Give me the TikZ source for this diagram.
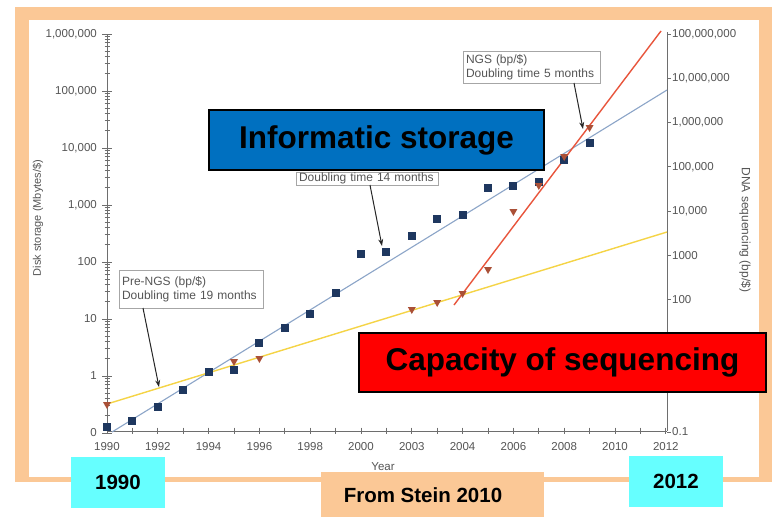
\documentclass[tikz,border=0pt]{standalone}
\usepackage{fontspec}
\setmainfont{Liberation Sans}
\usetikzlibrary{arrows.meta}
\definecolor{peach}{RGB}{251,200,150}
\definecolor{axisgray}{RGB}{110,110,110}
\definecolor{labelgray}{RGB}{85,85,85}
\definecolor{diskblue}{RGB}{140,165,200}
\definecolor{preyellow}{RGB}{245,212,70}
\definecolor{ngsred}{RGB}{232,85,60}
\definecolor{squarenavy}{RGB}{30,55,95}
\definecolor{trired}{RGB}{170,80,55}
\definecolor{infoblue}{RGB}{0,112,192}
\definecolor{tagcyan}{RGB}{102,255,255}
\tikzset{
  axisline/.style={draw=axisgray, line width=0.9pt},
  ticklabel/.style={text=labelgray, font=\fontsize{11.5}{13}\selectfont, inner sep=1pt},
  callout/.style={draw=gray!70, fill=white, text=labelgray, font=\fontsize{12}{14}\selectfont,
    align=left, inner xsep=3pt, inner ysep=2pt},
  pointer/.style={draw=black!85, line width=1pt, -{Stealth[length=7pt,width=5pt]}},
  bigbox/.style={draw=black, line width=1.3pt, font=\fontsize{31.5}{36}\selectfont\bfseries, text=black},
  tagbox/.style={font=\fontsize{20.5}{24}\selectfont\bfseries, text=black}
}
\begin{document}
\begin{tikzpicture}[x=1pt,y=-1pt]
\useasboundingbox (0,0) rectangle (772,517);

% frame around the chart
\fill[peach] (15,7) rectangle (772,482);
\fill[white] (29,20) rectangle (759,477);

% left log axis (disk storage)
\draw[axisline] (107,34) -- (107,431);
\foreach \d in {-1,...,6} {
  \draw[axisline] (102,{376-57*\d}) -- (112,{376-57*\d});
}
\foreach \d in {-1,...,5} {
  \foreach \k in {2,...,9} {
    \draw[axisgray, line width=0.7pt] (104.5,{376-57*(\d+log10(\k))}) -- (109.5,{376-57*(\d+log10(\k))});
  }
}
\foreach \d/\t in {-1/0, 0/1, 1/10, 2/100, 3/{1,000}, 4/{10,000}, 5/{100,000}, 6/{1,000,000}} {
  \node[ticklabel, anchor=east] (ll\d) at (98,{376-57*\d}) {\t};
}
\node[ticklabel, rotate=90, font=\fontsize{11}{13}\selectfont] (ltitle) at (38,218) {Disk storage (Mbytes/\$)};

% right log axis (DNA sequencing)
\draw[axisline] (667,32) -- (667,431);
\foreach \d in {-1,...,8} {
  \draw[axisline] (667,{432-44.2*(\d+1)}) -- (671,{432-44.2*(\d+1)});
}
\foreach \d/\t in {-1/0.1, 2/100, 3/1000, 4/{10,000}, 5/{100,000}, 6/{1,000,000}, 7/{10,000,000}, 8/{100,000,000}} {
  \node[ticklabel, anchor=west] (rl\d) at (671,{432-44.2*(\d+1)}) {\t};
}
\node[ticklabel, rotate=-90, font=\fontsize{12}{14}\selectfont] (rtitle) at (745,230) {DNA sequencing (bp/\$)};

% year axis
\draw[axisline] (107,431) -- (667,431);
\foreach \i in {0,...,22} {
  \draw[axisline] ({107+25.4*\i},427.5) -- ({107+25.4*\i},434);
}
\foreach \i/\t in {0/1990, 2/1992, 4/1994, 6/1996, 8/1998, 10/2000, 12/2003, 14/2004, 16/2006, 18/2008, 20/2010, 22/2012} {
  \node[ticklabel] (yl\i) at ({107+25.4*\i},447) {\t};
}
\node[ticklabel] (xtitle) at (383,467) {Year};

% trend lines
\draw[diskblue, line width=1.1pt] (112,432) -- (667,90);
\draw[preyellow, line width=1.4pt] (107,404) -- (667,232);
\draw[ngsred, line width=1.4pt] (454,305) -- (661,31);

% disk storage data
\foreach \i/\py in {0/427, 1/421, 2/407, 3/390, 4/372, 5/370, 6/343, 7/328, 8/314, 9/293,
                    10/254, 11/252, 12/236, 13/219, 14/215, 15/188, 16/186, 17/182, 18/160, 19/143} {
  \fill[squarenavy] ({107+25.4*\i-4},\py-4) rectangle ++(8,8);
}
% sequencing data
\foreach \i/\py in {0/405, 5/362, 6/359, 12/310, 13/303, 14/294, 15/270, 16/212, 17/186, 18/157, 19/128} {
  \fill[trired] ({107+25.4*\i-4},\py-3) -- ({107+25.4*\i+4},\py-3) -- ({107+25.4*\i},\py+4) -- cycle;
}

% callouts
\node[callout, text width=138pt, minimum height=38pt] (prengs) at (191,289)
  {Pre-NGS (bp/\$)\\Doubling time 19 months};
\coordinate (prengstip) at (159,387);
\draw[pointer] (143,308) -- (prengstip);

\node[callout, text width=136pt, minimum height=13pt, inner ysep=0.5pt] (disk) at (367,178.5)
  {Doubling time 14 months};
\coordinate (disktip) at (382,246);
\draw[pointer] (370,185) -- (disktip);

\node[callout, text width=131pt, minimum height=32pt] (ngs) at (531.5,67)
  {NGS (bp/\$)\\Doubling time 5 months};
\coordinate (ngstip) at (583,129);
\draw[pointer] (574,83) -- (ngstip);

% headline boxes
\node[bigbox, fill=infoblue, minimum width=335pt, minimum height=60pt] (info) at (376.5,140) {Informatic storage};
\node[bigbox, fill=red, minimum width=407pt, minimum height=59pt] (cap) at (562.5,362.5) {Capacity of sequencing};

% year tags and source
\node[tagbox, fill=tagcyan, minimum width=94pt, minimum height=51pt] (start) at (118,482.5) {1990};
\node[tagbox, fill=tagcyan, minimum width=94pt, minimum height=51pt] (end) at (676,481.5) {2012};
\node[tagbox, fill=peach, minimum width=223pt, minimum height=50pt] (source) at (432.5,497) {};
\node[tagbox] (sourcetext) at (423,495) {From Stein 2010};
\end{tikzpicture}
\end{document}
